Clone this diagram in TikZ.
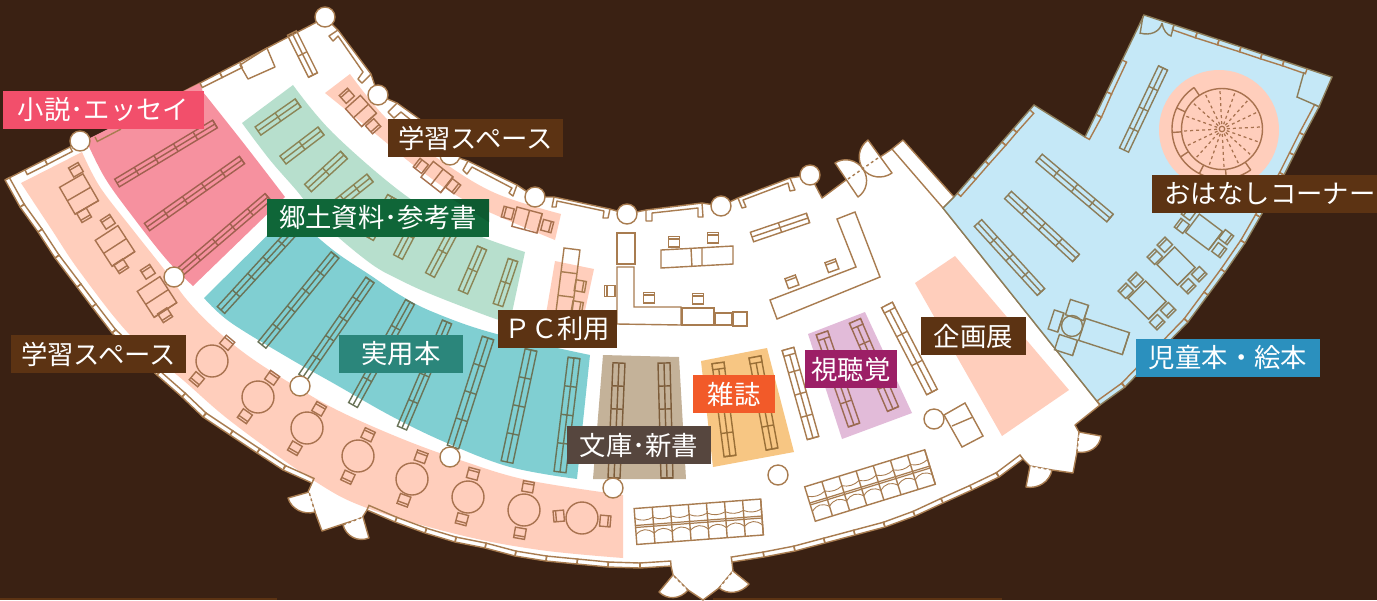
\documentclass[tikz,border=0pt]{standalone}
\usepackage{fontspec}
\newfontfamily\jp{Noto Sans CJK JP}
\definecolor{bgc}{HTML}{3A2113}
\definecolor{wallc}{HTML}{A87C50}
\definecolor{bluec}{HTML}{C5E8F7}
\definecolor{pinkc}{HTML}{F6919F}
\definecolor{greenc}{HTML}{B7DFCD}
\definecolor{tealc}{HTML}{80CFD2}
\definecolor{salmc}{HTML}{FFCEBC}
\definecolor{taupc}{HTML}{C4B299}
\definecolor{orgc}{HTML}{F7C683}
\definecolor{purc}{HTML}{E2BBD9}
\definecolor{shpink}{HTML}{A0604F}
\definecolor{shgreen}{HTML}{8B8556}
\definecolor{shteal}{HTML}{6A7458}
\definecolor{shtaup}{HTML}{7C5C3A}
\definecolor{shorg}{HTML}{9A7038}
\definecolor{shpur}{HTML}{9B6A52}
\definecolor{shblue}{HTML}{8C7D5A}
\definecolor{shsalm}{HTML}{A8724F}
\definecolor{labbrown}{HTML}{5C3313}
\definecolor{labpink}{HTML}{F24F6B}
\definecolor{labgreen}{HTML}{0F6638}
\definecolor{labgreend}{HTML}{0D5A30}
\definecolor{labteal}{HTML}{2B867B}
\definecolor{labgrey}{HTML}{56463E}
\definecolor{laborg}{HTML}{F25A29}
\definecolor{labpur}{HTML}{9C1F66}
\definecolor{labblue}{HTML}{2B90BE}
\tikzset{
  wall/.style={draw=wallc,line width=0.8pt,line join=round},
  furn/.style={line width=0.8pt,line join=miter},
  pillar/.style={circle,draw=wallc,fill=white,line width=0.8pt,minimum size=0.4cm,inner sep=0pt},
  roundtable/.style={circle,draw=shsalm,line width=0.8pt,minimum size=0.64cm,inner sep=0pt},
  labelbox/.style={inner sep=0pt,text=white,font=\jp\fontsize{15pt}{15pt}\selectfont,anchor=center}
}
% shelf between two end points, with a centre line and n sections
\newcommand\shelf[7][wallc]{%
  \pgfmathsetmacro\sa{atan2(#5-#3,#4-#2)}%
  \pgfmathsetmacro\sl{veclen(#4-#2,#5-#3)}%
  \begin{scope}[shift={(#2,#3)},rotate=-\sa,x=.02cm,y=.02cm]
    \draw[furn,draw=#1] (0,-#6) rectangle (\sl,#6);
    \draw[furn,draw=#1] (0,0)--(\sl,0);
    \foreach \k in {1,...,#7}{\pgfmathsetmacro\kx{\k*\sl/#7}\draw[furn,draw=#1] (\kx,-#6)--(\kx,#6);}
  \end{scope}}
% short end cap of a shelf: line colour, fill colour, then the same end points and half width
\newcommand\shelfcap[7]{%
  \pgfmathsetmacro\sa{atan2(#6-#4,#5-#3)}%
  \begin{scope}[shift={(#3,#4)},rotate=-\sa,x=.02cm,y=.02cm]
    \draw[furn,draw=#1,fill=#2] (0,-#7) rectangle (6,#7);
  \end{scope}}
% strip of desks between two end points
\newcommand\deskstrip[7][wallc]{%
  \pgfmathsetmacro\sa{atan2(#5-#3,#4-#2)}%
  \pgfmathsetmacro\sl{veclen(#4-#2,#5-#3)}%
  \begin{scope}[shift={(#2,#3)},rotate=-\sa,x=.02cm,y=.02cm]
    \draw[furn,draw=#1] (0,-#6) rectangle (\sl,#6);
    \foreach \k in {1,...,#7}{\pgfmathsetmacro\kx{\k*\sl/#7}\draw[furn,draw=#1] (\kx,-#6)--(\kx,#6);}
  \end{scope}}
% centred rectangle: cx cy angle length width sections
\newcommand\obox[7][wallc]{%
  \begin{scope}[shift={(#2,#3)},rotate=-#4,x=.02cm,y=.02cm]
    \draw[furn,draw=#1] ({-(#5)/2},{-(#6)/2}) rectangle ({(#5)/2},{(#6)/2});
    \foreach \k in {1,...,#7}{\pgfmathsetmacro\kx{-(#5)/2+\k*(#5)/#7}\draw[furn,draw=#1] (\kx,{-(#6)/2})--(\kx,{(#6)/2});}
  \end{scope}}
% chair: cx cy outward angle
\newcommand\chair[4][wallc]{%
  \begin{scope}[shift={(#2,#3)},rotate=-#4,x=.02cm,y=.02cm]
    \draw[furn,draw=#1] (-5,-5.5) rectangle (5.5,5.5);
    \draw[furn,draw=#1] (3,-5.5)--(3,5.5);
  \end{scope}}
% bench row of seats
\newcommand\bench[6]{%
  \pgfmathsetmacro\sa{atan2(#4-#2,#3-#1)}%
  \pgfmathsetmacro\sl{veclen(#3-#1,#4-#2)}%
  \pgfmathsetmacro\cw{\sl/#6}%
  \begin{scope}[shift={(#1,#2)},rotate=-\sa,x=.02cm,y=.02cm]
    \draw[furn,draw=wallc] (0,-#5) rectangle (\sl,#5);
    \draw[line width=0.7pt,draw=wallc] (0,-1)--(\sl,-1) (0,1)--(\sl,1);
    \foreach \k in {1,...,#6}{
      \pgfmathsetmacro\kx{\k*\cw}\pgfmathsetmacro\kz{(\k-1)*\cw}
      \draw[furn,draw=wallc] (\kx,-#5)--(\kx,#5);
      \draw[line width=0.5pt,draw=wallc] (\kz,8) .. controls ({\kz+\cw/3},5) and ({\kx-\cw/3},5) .. (\kx,8);
      \draw[line width=0.5pt,draw=wallc] (\kz,-8) .. controls ({\kz+\cw/3},-2.5) and ({\kx-\cw/3},-2.5) .. (\kx,-8);
    }
  \end{scope}}
% window band along a chain of points
\newcommand\wband[2][5]{%
  \foreach \xb/\yb [remember=\xb as \xa (initially 0),remember=\yb as \ya (initially 0),count=\ci] in {#2}{%
    \ifnum\ci>1
      \pgfmathsetmacro\wl{veclen(\xb-\xa,\yb-\ya)}%
      \pgfmathsetmacro\nx{(\yb-\ya)/\wl*#1}%
      \pgfmathsetmacro\ny{-(\xb-\xa)/\wl*#1}%
      \draw[furn,draw=wallc] (\xa,\ya)--({\xa+\nx},{\ya+\ny})--({\xb+\nx},{\yb+\ny})--(\xb,\yb);
    \fi}}
% door leaf: hinge, solid end, dashed end
\newcommand\qdoor[6]{%
  \fill[white] (#1,#2)--(#3,#4) .. controls ({#3+.55*(#5-#1)},{#4+.55*(#6-#2)}) and ({#5+.55*(#3-#1)},{#6+.55*(#4-#2)}) .. (#5,#6)--cycle;
  \draw[wall] (#1,#2)--(#3,#4) .. controls ({#3+.55*(#5-#1)},{#4+.55*(#6-#2)}) and ({#5+.55*(#3-#1)},{#6+.55*(#4-#2)}) .. (#5,#6);
  \draw[wallc,line width=0.8pt,dash pattern=on 1.6pt off 1.6pt] (#5,#6)--(#1,#2);}
% half disc door: centre, end A, end B, bulge point
\newcommand\hdoor[8]{%
  \fill[white] (#3,#4) .. controls ({#3+.55*(#7-#1)},{#4+.55*(#8-#2)}) and ({#7+.55*(#3-#1)},{#8+.55*(#4-#2)}) .. (#7,#8) .. controls ({#7+.55*(#5-#1)},{#8+.55*(#6-#2)}) and ({#5+.55*(#7-#1)},{#6+.55*(#8-#2)}) .. (#5,#6)--cycle;
  \draw[wall] (#3,#4) .. controls ({#3+.55*(#7-#1)},{#4+.55*(#8-#2)}) and ({#7+.55*(#3-#1)},{#8+.55*(#4-#2)}) .. (#7,#8) .. controls ({#7+.55*(#5-#1)},{#8+.55*(#6-#2)}) and ({#5+.55*(#7-#1)},{#6+.55*(#8-#2)}) .. (#5,#6)--cycle;}
% label box
\newcommand\lab[7]{\node[labelbox,fill=#6,minimum width={(#4-#2)*0.02cm},minimum height={(#5-#3)*0.02cm}] (#1) at ({(#2+#4)/2},{(#3+#5)/2}) {#7};}
\begin{document}
\begin{tikzpicture}[x=0.02cm,y=-0.02cm]
\useasboundingbox (0,0) rectangle (1377,600);
\fill[bgc] (0,0) rectangle (1377,600);
\fill[labbrown] (0,598) rectangle (277,600);
\fill[labbrown] (713,598) rectangle (1002,600);
% building
\draw[wall,fill=white] (5,180)--(72,146)--(95,137)--(200,83)--(315,23)--(325,17)--(338,30)--(371,74)--(378,95)--(397,103)--(432,128)--(450,155)--(468,161)--(517,185)--(535,197)--(554,197)--(610,209)--(627,214)--(646,210)--(702,203)--(721,206)--(738,198)--(790,178)--(810,175)--(822,198)--(846,180)--(880,157)--(892,149)--(903,140)--(954,197)--(943,208)--(1100,405)--(1075,425)--(1079,432)--(1077,452)--(1073,473)--(1052,470)--(1030,466)--(1023,459)--(999,477)--(972,490)--(943,503)--(915,516)--(885,527)--(855,535)--(825,543)--(795,551)--(764,557)--(732,562)--(733,571)--(719,588)--(703,600)--(688,590)--(673,575)--(671,566)--(640,568)--(608,567)--(577,564)--(546,561)--(515,556)--(485,548)--(455,542)--(425,533)--(395,522)--(367,510)--(362,518)--(343,524)--(322,531)--(315,512)--(308,492)--(312,483)--(283,470)--(257,453)--(230,435)--(203,417)--(182,397)--(157,375)--(112,333)--(92,307)--(77,287)--(55,258)--(38,232)--(20,207)--cycle;
\draw[wall] (892,149)--(943,208);
% doors
\hdoor{846.5}{180}{835}{163}{858}{197}{863}{169}
\hdoor{880}{157}{868}{140}{892}{173}{863}{169}
\draw[wallc,line width=0.8pt,dash pattern=on 1.6pt off 1.6pt] (848,179)--(878,158);
\qdoor{309}{492}{288}{498}{315}{512}
\qdoor{363}{517}{369}{538}{343}{525}
\qdoor{673}{575}{659}{592}{688}{590}
\qdoor{733}{571}{749}{584}{719}{588}
\qdoor{1030}{466}{1026}{487}{1052}{470}
\qdoor{1079}{432}{1101}{436}{1077}{452}
% coloured areas
\fill[salmc] plot[smooth,tension=.6] coordinates {(21,183)(50,227)(80,272)(130,335)(183,380)(233,423)(313,480)(367,508)(460,535)(540,550)(623,558)} -- plot[smooth,tension=.6] coordinates {(623,495)(527,480)(460,460)(400,438)(337,410)(290,383)(247,355)(213,327)(187,300)(167,273)(133,230)(100,187)(82,152)} -- cycle;
\fill[pinkc] (86,140)--(200,83)--(203,92) -- plot[smooth,tension=.6] coordinates {(203,92)(245,145)(285,197)} -- (193,286) -- plot[smooth,tension=.6] coordinates {(193,286)(167,260)(133,217)(105,178)(86,140)} -- cycle;
\fill[greenc] (242,123)--(293,85) -- plot[smooth,tension=.6] coordinates {(293,85)(333,133)(405,195)(465,230)(525,252)} -- (510,322) -- plot[smooth,tension=.6] coordinates {(510,322)(493,318)(433,295)(400,280)(370,263)(325,225)(297,191)(270,160)(242,123)} -- cycle;
\fill[tealc] (204,298)--(290,213) -- plot[smooth,tension=.6] coordinates {(290,213)(333,250)(370,275)(400,295)(433,312)(493,333)(590,355)} -- (577,479) -- plot[smooth,tension=.6] coordinates {(577,479)(510,467)(447,443)(393,417)(333,383)(287,357)(230,322)(204,298)} -- cycle;
\fill[salmc] (325,93)--(350,74) -- plot[smooth,tension=.6] coordinates {(350,74)(388,120)(440,160)(495,193)(561,214)} -- (555,240) -- plot[smooth,tension=.6] coordinates {(555,240)(470,203)(420,170)(377,135)(325,93)} -- cycle;
\fill[salmc] (555,261)--(594,269)--(583,320)--(545,320)--cycle;
\fill[taupc] (603,355)--(679,357)--(686,479)--(593,479)--cycle;
\fill[orgc] (701,361)--(767,348)--(794,452)--(713,467)--cycle;
\fill[purc] (808,334)--(865,312)--(912,413)--(842,439)--cycle;
\fill[salmc] (915,283)--(955,256)--(1069,390)--(1002,436)--cycle;
% children's room
\draw[draw=shblue,line width=0.8pt,fill=bluec] (1144,15)--(1332,77)--(1319,107)--(1304,135)--(1284,175)--(1260,217)--(1245,243)--(1225,272)--(1208,295)--(1188,322)--(1125,387)--(1100,405)--(943,208)--(954,197)--(1034,105)--(1085,137)--cycle;
\fill[salmc] (1219,130) circle[radius=1.2cm];
% window bands
\wband{5/180,20/207,38/232,55/258,77/287,92/307,112/333,157/375,182/397,203/417,230/435,257/453,283/470,312/483}
\wband{367/510,395/522,425/533,455/542,485/548,515/556,546/561,577/564,608/567,640/568,671/566}
\wband{732/562,764/557,795/551,825/543,855/535,885/527,915/516,943/503,972/490,999/477,1023/459}
\wband{70/147,45/160,25/170}
\wband{118/125,95/137}
\wband{240/63,220/73,200/83}
\wband{1100/405,1125/387,1188/322,1208/295,1225/272,1245/243,1260/217,1284/175,1294/155,1304/135,1319/107}
\wband{1307/69,1284/61,1262/54,1241/47,1219/40,1197/33,1174/25}
\wband{1122/60,1107/92,1097/115,1085/137}
\wband{1030/110,1013/129,1002/142,985/161,972/176,957/193}
% corner details in the children's room
\draw[furn,draw=shblue] (1304,72)--(1297,97)--(1320,107);
\draw[furn,draw=shblue] (1140,34)--(1143,16);
\draw[furn,draw=shblue] (1140,33) .. controls (1150,36) and (1160,32) .. (1162,23);
\draw[furn,draw=shblue] (1162,23) .. controls (1163,30) and (1167,35) .. (1171,36)--(1174,25);
% wall brackets
\draw[wall] (338,30)--(329,36)--(333,41)--(338,36)--(363,72)--(358,79)--(362,83)--(371,74);
\draw[wall] (397,103)--(388,112)--(394,118)--(401,112)--(428,134);
\draw[wall] (468,161)--(463,170)--(467,174)--(472,167)--(512,188)--(509,193)--(513,196)--(517,185);
\draw[wall] (554,197)--(552,207)--(556,207)--(557,201)--(604,211)--(603,218)--(608,218)--(610,209);
\draw[wall] (646,210)--(646,221)--(652,221)--(652,213)--(698,208)--(698,217)--(703,217)--(702,203);
\draw[wall] (738,198)--(742,208)--(746,207)--(743,200)--(788,183)--(790,191)--(795,190)--(790,178);
\draw[wall] (240,65)--(267,48)--(275,67)--(248,79)--cycle;
\shelf{292}{33}{313}{75}{5}{2}
% novels
\shelf[shpink]{117}{183}{215}{124}{4.5}{5}
\shelf[shpink]{147}{227}{242}{160}{4.5}{5}
\shelf[shpink]{180}{272}{268}{197}{4.5}{5}
% local studies
\shelf[shgreen]{258}{131}{298}{103}{5}{2}
\shelf[shgreen]{283}{160}{321}{131}{5}{2}
\shelf[shgreen]{308}{188}{344}{155}{5}{2}
\shelf[shgreen]{330}{210}{370}{178}{5}{3}
\shelf[shgreen]{369}{238}{392}{197}{5}{2}
\shelf[shgreen]{398}{257}{420}{215}{5}{2}
\shelf[shgreen]{430}{275}{455}{228}{5}{2}
\shelf[shgreen]{463}{292}{482}{248}{5}{2}
\shelf[shgreen]{498}{305}{513}{260}{5}{2}
% practical books
\shelf[shteal]{221}{310}{297}{227}{5}{5}
\shelf[shteal]{262}{345}{335}{255}{5}{5}
\shelf[shteal]{303}{377}{370}{280}{5}{5}
\shelf[shteal]{353}{405}{410}{302}{5}{4}
\shelf[shteal]{402}{428}{447}{322}{5}{4}
\shelf[shteal]{453}{447}{488}{338}{6}{4}
\shelf[shteal]{507}{462}{531}{350}{6}{4}
\shelf[shteal]{560}{472}{574}{358}{6}{4}
% paperbacks
\shelf[shtaup]{619}{363}{614}{478}{6}{5}
\shelf[shtaup]{664}{363}{667}{478}{6}{5}
% magazines
\shelf[shorg]{718}{363}{730}{456}{6}{4}
\shelf[shorg]{755}{357}{772}{449}{6}{4}
\shelfcap{shorg}{orgc}{718}{363}{730}{456}{6}
\shelfcap{shorg}{orgc}{755}{357}{772}{449}{6}
% audio-visual
\shelf[shpur]{822}{333}{854}{425}{6}{4}
\shelf[shpur]{855}{321}{893}{409}{6}{4}
\shelfcap{shpur}{purc}{822}{333}{854}{425}{6}
\shelfcap{shpur}{purc}{855}{321}{893}{409}{6}
\shelf{788}{349}{813}{438}{6}{4}
\shelf{887}{305}{932}{392}{6}{3}
\shelfcap{wallc}{white}{788}{349}{813}{438}{6}
\shelfcap{wallc}{white}{887}{305}{932}{392}{6}
\shelf{752}{237}{808}{218}{5}{2}
% counters
\draw[furn,draw=wallc] (661,250)--(733,246)--(733,264)--(661,268)--cycle (691,248)--(692,267) (702,248)--(702,266);
\draw[furn,draw=wallc] (617,233) rectangle (635,264);
\draw[furn,draw=wallc] (617,267)--(634,267)--(634,307)--(681,307)--(681,325)--(617,324)--cycle;
\draw[furn,draw=wallc] (682,308) rectangle (714,325);
\draw[furn,draw=wallc] (715,313) rectangle (732,325);
\draw[furn,draw=wallc] (733,312) rectangle (747,326);
\draw[furn,draw=wallc] (837,219)--(855,212)--(880,277)--(777,319)--(770,300)--(856,267)--cycle;
\chair{674}{242}{-90}
\chair{713}{238}{-90}
\chair{649}{298}{-90}
\chair{698}{299}{-90}
\chair{610}{291}{180}
\chair{792}{282}{-110}
\chair{832}{266}{-110}
% reading desks, left
\obox[shsalm]{79}{194}{60}{31}{27}{2}
\chair[shsalm]{76}{170}{-120}
\chair[shsalm]{84}{215}{60}
\obox[shsalm]{115}{246}{57}{31}{27}{2}
\chair[shsalm]{108}{222}{-123}
\chair[shsalm]{121}{266}{57}
\obox[shsalm]{157}{297}{57}{31}{27}{2}
\chair[shsalm]{148}{272}{-123}
\chair[shsalm]{165}{315}{57}
% round tables
\foreach \tn/\tx/\ty/\ax/\ay/\aa/\bx/\by/\ba in {a/212/361/227/343/-50/197/379/130,b/258/397/272/378/-55/245/416/125,c/307/428/319/409/-60/295/448/120,d/358/456/368/435/-65/348/477/115,e/412/479/421/457/-70/404/500/110,f/468/497/473/474/-75/462/519/105,g/524/510/528/487/-80/520/533/100,h/582/518/559/516/175/605/521/5}{
  \node[roundtable] (tab\tn) at (\tx,\ty) {};
  \chair[shsalm]{\ax}{\ay}{\aa}
  \chair[shsalm]{\bx}{\by}{\ba}
}
% upper study desks
\obox[shsalm]{361}{111}{48}{24}{20}{2}
\chair[shsalm]{347}{96}{-132}
\chair[shsalm]{373}{126}{48}
\obox[shsalm]{437}{177}{38}{25}{20}{2}
\chair[shsalm]{421}{166}{-142}
\chair[shsalm]{453}{186}{38}
\obox[shsalm]{527}{220}{15}{26}{20}{2}
\chair[shsalm]{508}{213}{-165}
\chair[shsalm]{547}{226}{15}
% PC desks
\deskstrip{572}{249}{563}{320}{8}{3}
\chair{580}{286}{10}
\chair{577}{307}{10}
% benches
\bench{635.5}{526.5}{762}{517}{18}{7}
\bench{810}{504}{930}{467}{18}{7}
% children's shelves and desks
\shelf[shblue]{1124}{150}{1163}{68}{5}{4}
\shelf[shblue]{1039}{158}{1110}{218}{5}{4}
\shelf[shblue]{1008}{195}{1076}{258}{5}{4}
\shelf[shblue]{978}{223}{1041}{292}{5}{4}
\obox[shblue]{1204}{232}{37}{29}{23}{1}
\chair[shblue]{1182}{226}{-143}
\chair[shblue]{1189}{213}{-143}
\chair[shblue]{1226}{237}{37}
\chair[shblue]{1219}{250}{37}
\obox[shblue]{1176}{266}{45}{29}{25}{1}
\chair[shblue]{1165}{245}{-135}
\chair[shblue]{1155}{257}{-135}
\chair[shblue]{1199}{274}{45}
\chair[shblue]{1188}{286}{45}
\obox[shblue]{1147}{300}{45}{29}{25}{1}
\chair[shblue]{1126}{291}{-135}
\chair[shblue]{1136}{280}{-135}
\chair[shblue]{1168}{310}{45}
\chair[shblue]{1157}{322}{45}
\obox[shblue]{1104}{336.5}{18}{46}{23}{1}
\obox[shblue]{1077}{310}{18}{19}{16}{1}
\obox[shblue]{1056}{321}{18}{10}{20}{1}
\obox[shblue]{1066}{345}{18}{19}{16}{1}
\node[circle,draw=shblue,line width=0.8pt,minimum size=0.42cm,inner sep=0pt] (storyseat) at (1072,326) {};
% desk by the exhibition
\draw[furn,draw=wallc] (944,415)--(965,403)--(983,436)--(962,447)--cycle (952,426)--(973,417);
% story corner
\foreach \ang in {0,...,15}{\draw[draw=shsalm,line width=0.7pt,dash pattern=on 1.7pt off 1.7pt] ({1222+5*cos(\ang*22.5-3)},{129+5*sin(\ang*22.5-3)})--({1222+39*cos(\ang*22.5-3)},{129+39*sin(\ang*22.5-3)});}
\node[circle,draw=shsalm,line width=0.8pt,minimum size=1.62cm,inner sep=0pt] (stage) at (1222,129) {};
\node[circle,draw=shsalm,line width=0.7pt,minimum size=0.11cm,inner sep=0pt] (stagemid) at (1222,129) {};
\draw[draw=shsalm,line width=0.8pt] plot[domain=55:236,samples=50] ({1222+50*cos(\x)},{129+50*sin(\x)});
\foreach \ang in {55,85,117,146,176,205,236}{\draw[draw=shsalm,line width=0.8pt] ({1222+40.5*cos(\ang)},{129+40.5*sin(\ang)})--({1222+50*cos(\ang)},{129+50*sin(\ang)});}
% pillars
\foreach \pn/\px/\py in {a/80/141,b/325/17,c/378/95,d/450/155,e/535/197,f/627/214,g/721/206,h/810/175,i/174/277,j/300/386,k/450/457,l/613/488,m/778/475,n/934/419}{\node[pillar] (pil\pn) at (\px,\py) {};}
% labels
\lab{lnovel}{3}{91}{204}{129}{labpink}{小説･エッセイ}
\lab{lstudya}{388}{119}{563}{157}{labbrown}{学習スペース}
\fill[labgreen] (267,199) rectangle (489,237);
\fill[labgreend] (452,199)--(489,199)--(489,222)--cycle;
\node[labelbox,minimum width=4.44cm,minimum height=0.76cm] (llocal) at (378,218) {郷土資料･参考書};
\lab{lstudyb}{11}{335}{186}{373}{labbrown}{学習スペース}
\lab{lpract}{339}{335}{463}{373}{labteal}{実用本}
\lab{lpc}{498}{310}{617}{348}{labbrown}{ＰＣ利用}
\lab{lpaper}{567}{426}{711}{464}{labgrey}{文庫･新書}
\lab{lmag}{693}{375}{775}{413}{laborg}{雑誌}
\lab{lav}{805}{350}{897}{388}{labpur}{視聴覚}
\lab{lexh}{921}{317}{1026}{355}{labbrown}{企画展}
\lab{lchild}{1136}{339}{1320}{377}{labblue}{児童本・絵本}
\lab{lstory}{1152}{175}{1388}{213}{labbrown}{おはなしコーナー}
\end{tikzpicture}
\end{document}
